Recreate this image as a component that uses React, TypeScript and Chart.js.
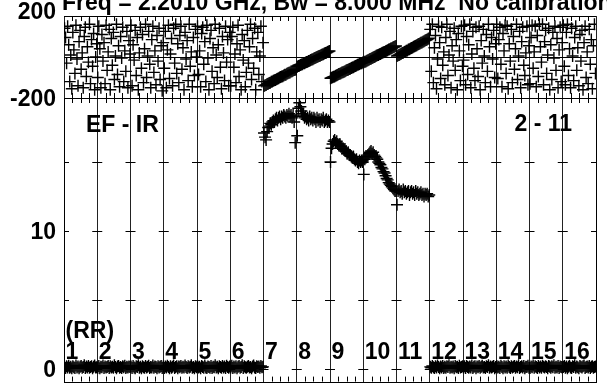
import React, { useEffect, useRef } from "react";
import { Chart, registerables } from "chart.js";

Chart.register(...registerables);

// ---------- text ----------
const TITLE = "Freq = 2.2010 GHz, Bw = 8.000 MHz  No calibration";
const BASELINE_LABEL = "EF - IR";
const TIME_LABEL = "2 - 11";
const POL_LABEL = "(RR)";
const IF_LABELS = ["1", "2", "3", "4", "5", "6", "7", "8", "9", "10", "11", "12", "13", "14", "15", "16"];

// ---------- axes ----------
const PHASE_MIN = -200;
const PHASE_MAX = 200;
const PHASE_GRID = [-200, 0, 200];
const PHASE_TICKS = [-200, 200];
const PHASE_TICK_LABELS = ["-200", "200"];
const AMP_MIN = -0.93;
const AMP_MAX = 19.64;
const AMP_MARKS = [0, 5, 10, 15];
const AMP_TICKS = [0, 10];
const AMP_TICK_LABELS = ["0", "10"];
const MINOR_FRACTIONS = [0.25, 0.5, 0.75];

// ---------- phase (deg), 32 channels per IF ----------
const PHASE_IF1 = [140, 95, -30, 150, 60, -120, 10, -155, 120, 35, -80, 155, -10, -140, 75, 130, -60, 20, -150, 100, 145, -95, 50, -25, 160, -130, 85, -45, 115, -160, 0, 65];
const PHASE_IF2 = [-100, 150, 40, -150, 110, -20, 70, -130, 155, -65, 25, 135, -160, 90, -40, 120, -110, 5, 160, -85, 55, -145, 100, -5, 145, -120, 30, -70, 125, -150, 80, 15];
const PHASE_IF3 = [155, -140, 60, -15, 130, -90, 95, -160, 20, 145, -55, 110, -125, 40, 160, -100, 5, 125, -35, -150, 85, 150, -75, 30, -135, 105, -20, 140, -110, 55, -165, 70];
const PHASE_IF4 = [-55, 125, -150, 35, 155, -105, 15, 90, -140, 140, -30, 160, -80, 65, -125, 105, 150, -60, 45, -160, 120, -10, 80, -115, 160, -45, 25, -145, 95, -90, 135, 0];
const PHASE_IF5 = [150, -85, 30, -145, 115, 145, -35, 75, -120, 155, -5, -160, 90, 130, -70, 45, -130, 160, 10, -100, 60, 140, -50, -155, 100, 20, -115, 150, -25, 85, -140, 120];
const PHASE_IF6 = [-140, 100, 145, -50, 15, -125, 65, 155, -95, 35, -160, 110, -15, 80, -145, -75, 130, -30, 50, 160, -110, 90, -55, 140, -160, 25, 120, -85, 5, 150, -120, 70];
const PHASE_IF7 = [-141, -138, -136, -132, -130, -127, -125, -121, -120, -116, -113, -112, -108, -106, -104, -100, -98, -95, -94, -90, -87, -86, -82, -79, -77, -75, -71, -70, -66, -64, -62, -60];
const PHASE_IF8 = [-47, -44, -43, -39, -37, -35, -31, -30, -27, -24, -23, -19, -18, -15, -12, -11, -7, -5, -3, 0, 2, 5, 6, 10, 12, 14, 17, 19, 21, 24, 27, 29];
const PHASE_IF9 = [-104, -101, -99, -96, -95, -91, -89, -87, -83, -82, -79, -76, -74, -72, -69, -66, -64, -62, -58, -57, -54, -51, -50, -46, -44, -42, -38, -37, -34, -31, -30, -27];
const PHASE_IF10 = [-26, -23, -22, -18, -16, -13, -10, -9, -5, -3, 0, 2, 6, 8, 10, 13, 15, 18, 21, 23, 25, 28, 31, 33, 36, 38, 41, 43, 46, 49, 51, 54];
const PHASE_IF11 = [5, 8, 10, 14, 16, 19, 21, 25, 27, 30, 32, 36, 38, 41, 44, 46, 50, 52, 55, 57, 61, 63, 66, 69, 71, 75, 77, 80, 83, 85, 89, 92];
const PHASE_IF12 = [135, -70, 160, -125, 45, 105, -155, -10, 150, 70, -105, 145, -40, 25, -135, 95, 160, -90, 10, 125, -150, 55, -20, 140, -65, 85, -160, 115, 30, -115, 150, -45];
const PHASE_IF13 = [-15, 155, -135, 100, -85, 60, 160, -150, 15, 125, -55, -115, 145, 40, -95, 150, -160, 80, -30, 135, 5, -125, 110, -70, 160, 50, -145, 95, -10, 130, -100, 65];
const PHASE_IF14 = [160, -105, 85, 145, -35, -145, 115, 30, 155, -80, 150, -155, 65, -20, 135, -125, 100, -60, 40, 160, -110, 5, 125, -150, 75, 145, -40, -90, 20, 150, -135, 55];
const PHASE_IF15 = [-130, 95, 155, -55, 25, 150, -145, 105, -95, 160, 50, -25, 160, -135, 75, 130, -80, 10, 140, -160, 60, -110, 120, -5, 150, -65, 90, -150, 35, 145, -120, 70];
const PHASE_IF16 = [155, -45, -135, 120, 160, -90, 40, -150, 140, 5, -115, 95, 150, -65, 45, -140, 110, -20, 130, -160, 70, 150, -100, 25, -130, 135, -35, 85, -155, 55, 160, -80];

// ---------- amplitude, 32 channels per IF ----------
const AMP_IF1 = [0.12, 0.05, 0.18, 0.09, 0.22, 0.07, 0.15, 0.03, 0.19, 0.11, 0.06, 0.24, 0.1, 0.16, 0.04, 0.14, 0.2, 0.08, 0.13, 0.26, 0.05, 0.17, 0.1, 0.21, 0.07, 0.12, 0.18, 0.03, 0.15, 0.23, 0.09, 0.11];
const AMP_IF2 = [0.08, 0.2, 0.04, 0.15, 0.11, 0.23, 0.06, 0.17, 0.09, 0.13, 0.21, 0.05, 0.18, 0.1, 0.14, 0.07, 0.25, 0.12, 0.03, 0.16, 0.2, 0.08, 0.13, 0.06, 0.19, 0.11, 0.22, 0.05, 0.15, 0.09, 0.17, 0.12];
const AMP_IF3 = [0.16, 0.06, 0.21, 0.1, 0.04, 0.18, 0.12, 0.25, 0.08, 0.14, 0.03, 0.19, 0.11, 0.07, 0.2, 0.09, 0.15, 0.22, 0.05, 0.13, 0.1, 0.24, 0.07, 0.17, 0.12, 0.04, 0.19, 0.09, 0.14, 0.21, 0.06, 0.16];
const AMP_IF4 = [0.05, 0.17, 0.1, 0.22, 0.13, 0.04, 0.19, 0.08, 0.15, 0.24, 0.06, 0.12, 0.18, 0.03, 0.16, 0.11, 0.2, 0.07, 0.14, 0.09, 0.23, 0.12, 0.05, 0.18, 0.1, 0.15, 0.26, 0.08, 0.13, 0.04, 0.19, 0.11];
const AMP_IF5 = [0.19, 0.09, 0.14, 0.04, 0.2, 0.12, 0.07, 0.23, 0.1, 0.05, 0.17, 0.13, 0.08, 0.21, 0.06, 0.15, 0.11, 0.25, 0.09, 0.14, 0.03, 0.18, 0.12, 0.07, 0.2, 0.1, 0.16, 0.05, 0.22, 0.13, 0.08, 0.17];
const AMP_IF6 = [0.1, 0.22, 0.06, 0.16, 0.09, 0.19, 0.03, 0.14, 0.2, 0.08, 0.12, 0.25, 0.05, 0.18, 0.11, 0.07, 0.15, 0.21, 0.09, 0.13, 0.04, 0.17, 0.23, 0.1, 0.06, 0.19, 0.12, 0.16, 0.08, 0.2, 0.11, 0.14];
const AMP_IF7 = [17.1, 16.8, 16.6, 17.2, 17.5, 17.6, 17.8, 17.7, 17.9, 18.0, 17.9, 18.1, 18.2, 18.0, 18.2, 18.3, 18.1, 18.3, 18.2, 18.4, 18.3, 18.2, 18.4, 18.3, 18.5, 18.3, 18.4, 18.2, 18.4, 17.9, 16.4, 18.3];
const AMP_IF8 = [16.9, 18.9, 19.3, 19.0, 18.7, 18.5, 18.4, 18.2, 18.3, 18.1, 18.2, 18.0, 18.3, 18.1, 18.2, 18.0, 18.2, 18.1, 17.9, 18.2, 18.0, 18.1, 17.9, 18.1, 18.0, 18.2, 17.9, 18.0, 18.1, 17.9, 18.0, 17.9];
const AMP_IF9 = [15.0, 16.0, 16.3, 16.5, 16.6, 16.4, 16.5, 16.3, 16.2, 16.3, 16.1, 16.0, 16.0, 15.9, 15.8, 15.8, 15.6, 15.7, 15.5, 15.5, 15.4, 15.3, 15.4, 15.2, 15.1, 15.2, 15.0, 14.9, 15.1, 15.0, 15.1, 15.0];
const AMP_IF10 = [14.1, 15.2, 15.3, 15.4, 15.5, 15.6, 15.7, 15.8, 15.6, 15.7, 15.5, 15.4, 15.3, 15.2, 15.0, 14.9, 14.8, 14.6, 14.5, 14.3, 14.2, 14.0, 13.8, 13.7, 13.5, 13.4, 13.3, 13.2, 13.1, 13.0, 12.9, 12.9];
const AMP_IF11 = [11.9, 12.9, 13.0, 12.8, 12.9, 12.7, 13.0, 12.8, 12.9, 12.7, 12.8, 12.9, 12.6, 12.8, 12.9, 12.7, 12.8, 12.6, 12.9, 12.7, 12.8, 12.6, 12.7, 12.8, 12.6, 12.7, 12.5, 12.7, 12.6, 12.7, 12.5, 12.6];
const AMP_IF12 = [0.14, 0.07, 0.2, 0.11, 0.05, 0.18, 0.09, 0.23, 0.13, 0.04, 0.16, 0.1, 0.21, 0.06, 0.15, 0.08, 0.19, 0.12, 0.25, 0.07, 0.14, 0.1, 0.17, 0.03, 0.2, 0.11, 0.15, 0.06, 0.22, 0.09, 0.13, 0.18];
const AMP_IF13 = [0.09, 0.18, 0.05, 0.21, 0.12, 0.07, 0.16, 0.1, 0.24, 0.06, 0.14, 0.19, 0.03, 0.17, 0.11, 0.2, 0.08, 0.15, 0.22, 0.1, 0.13, 0.05, 0.18, 0.12, 0.26, 0.07, 0.16, 0.09, 0.14, 0.2, 0.04, 0.12];
const AMP_IF14 = [0.2, 0.1, 0.15, 0.06, 0.22, 0.13, 0.04, 0.18, 0.09, 0.16, 0.07, 0.23, 0.12, 0.05, 0.19, 0.1, 0.14, 0.21, 0.08, 0.17, 0.11, 0.25, 0.06, 0.13, 0.18, 0.09, 0.2, 0.04, 0.15, 0.12, 0.22, 0.08];
const AMP_IF15 = [0.06, 0.16, 0.11, 0.24, 0.08, 0.19, 0.13, 0.05, 0.2, 0.1, 0.17, 0.07, 0.22, 0.14, 0.09, 0.18, 0.12, 0.03, 0.21, 0.15, 0.08, 0.19, 0.11, 0.25, 0.07, 0.14, 0.1, 0.2, 0.05, 0.17, 0.13, 0.09];
const AMP_IF16 = [0.13, 0.21, 0.08, 0.17, 0.04, 0.15, 0.22, 0.1, 0.06, 0.19, 0.12, 0.25, 0.07, 0.16, 0.11, 0.03, 0.2, 0.14, 0.09, 0.18, 0.23, 0.06, 0.12, 0.17, 0.1, 0.21, 0.05, 0.15, 0.19, 0.08, 0.13, 0.16];

const PHASE_SERIES = [PHASE_IF1, PHASE_IF2, PHASE_IF3, PHASE_IF4, PHASE_IF5, PHASE_IF6, PHASE_IF7, PHASE_IF8,
  PHASE_IF9, PHASE_IF10, PHASE_IF11, PHASE_IF12, PHASE_IF13, PHASE_IF14, PHASE_IF15, PHASE_IF16];
const AMP_SERIES = [AMP_IF1, AMP_IF2, AMP_IF3, AMP_IF4, AMP_IF5, AMP_IF6, AMP_IF7, AMP_IF8,
  AMP_IF9, AMP_IF10, AMP_IF11, AMP_IF12, AMP_IF13, AMP_IF14, AMP_IF15, AMP_IF16];

const FONT_FAMILY = '"Liberation Sans", Arial, Helvetica, sans-serif';
const FONT_SIZE = 23;
const FONT = `bold ${FONT_SIZE}px ${FONT_FAMILY}`;
const INK = "#000";
const GRID_INK = "#222";

function buildPoints(series: number[][]) {
  const pts: { x: number; y: number }[] = [];
  series.forEach((vals, i) => {
    vals.forEach((v, j) => pts.push({ x: i + (j + 0.5) / vals.length, y: v }));
  });
  return pts;
}

const IF_BOUNDARIES = Array.from({ length: IF_LABELS.length + 1 }, (_, i) => i);

function drawMinorTicks(chart: any) {
  const { ctx, chartArea, scales } = chart;
  const xs = scales.x;
  ctx.save();
  ctx.strokeStyle = INK;
  ctx.lineWidth = 1;
  ctx.beginPath();
  for (let i = 0; i < IF_LABELS.length; i++) {
    for (const f of MINOR_FRACTIONS) {
      const x = Math.round(xs.getPixelForValue(i + f)) + 0.5;
      ctx.moveTo(x, chartArea.top);
      ctx.lineTo(x, chartArea.top + 5);
      ctx.moveTo(x, chartArea.bottom);
      ctx.lineTo(x, chartArea.bottom - 5);
    }
  }
  ctx.stroke();
  ctx.restore();
}

function drawYLabels(chart: any, values: number[], labels: string[]) {
  const { ctx, chartArea, scales } = chart;
  const ys = scales.y;
  ctx.save();
  ctx.fillStyle = INK;
  ctx.font = FONT;
  ctx.textAlign = "right";
  ctx.textBaseline = "middle";
  values.forEach((v, i) => {
    const atTop = v >= ys.max;
    const y = ys.getPixelForValue(v) + (atTop ? -3 : 2);
    ctx.fillText(labels[i], chartArea.left - 8, y);
  });
  ctx.restore();
}

const topDecor = {
  id: "topDecor",
  afterDraw(chart: any) {
    const { ctx, chartArea } = chart;
    drawMinorTicks(chart);
    drawYLabels(chart, PHASE_TICKS, PHASE_TICK_LABELS);
    ctx.save();
    ctx.fillStyle = INK;
    ctx.font = FONT;
    ctx.textAlign = "left";
    ctx.textBaseline = "alphabetic";
    ctx.fillText(TITLE, chartArea.left - 2, 10);
    ctx.restore();
  },
};

const bottomDecor = {
  id: "bottomDecor",
  afterDraw(chart: any) {
    const { ctx, chartArea, scales } = chart;
    const xs = scales.x;
    const ys = scales.y;
    ctx.save();
    ctx.strokeStyle = INK;
    ctx.lineWidth = 1;
    ctx.strokeRect(
      Math.round(chartArea.left) + 0.5,
      Math.round(chartArea.top) + 0.5,
      Math.round(chartArea.right - chartArea.left),
      Math.round(chartArea.bottom - chartArea.top)
    );
    ctx.beginPath();
    for (const v of AMP_MARKS) {
      const y = Math.round(ys.getPixelForValue(v)) + 0.5;
      for (const b of IF_BOUNDARIES) {
        const x = xs.getPixelForValue(b);
        ctx.moveTo(Math.max(chartArea.left, x - 5), y);
        ctx.lineTo(Math.min(chartArea.right, x + 5), y);
      }
    }
    ctx.stroke();
    ctx.restore();
    drawMinorTicks(chart);
    drawYLabels(chart, AMP_TICKS, AMP_TICK_LABELS);

    ctx.save();
    ctx.fillStyle = INK;
    ctx.font = FONT;
    ctx.textBaseline = "alphabetic";
    ctx.textAlign = "left";
    ctx.fillText(BASELINE_LABEL, chartArea.left + 22, chartArea.top + 33.5);
    ctx.textAlign = "right";
    ctx.fillText(TIME_LABEL, chartArea.right - 24, chartArea.top + 33);
    ctx.textAlign = "left";
    ctx.fillText(POL_LABEL, xs.getPixelForValue(0) + 1.5, chartArea.bottom - 44);
    IF_LABELS.forEach((lab, i) => {
      ctx.fillText(lab, xs.getPixelForValue(i) + 1.5, chartArea.bottom - 23);
    });
    ctx.restore();
  },
};

function xScaleOptions() {
  return {
    type: "linear" as const,
    min: 0,
    max: IF_LABELS.length,
    afterBuildTicks: (s: any) => {
      s.ticks = IF_BOUNDARIES.map((v) => ({ value: v }));
    },
    ticks: { display: false },
    grid: { color: GRID_INK, lineWidth: 1, drawTicks: false },
    border: { display: false },
    afterFit: (s: any) => {
      s.height = 0;
    },
  };
}

function datasetStyle() {
  return {
    pointStyle: "cross" as const,
    pointRadius: 6,
    pointHoverRadius: 6,
    borderColor: INK,
    backgroundColor: INK,
    borderWidth: 1.4,
    showLine: false,
  };
}

const W = 607;
const H = 389;

export default function App() {
  const topRef = useRef<HTMLCanvasElement>(null);
  const botRef = useRef<HTMLCanvasElement>(null);

  useEffect(() => {
    const topChart = new Chart(topRef.current as HTMLCanvasElement, {
      type: "scatter",
      data: { datasets: [{ data: buildPoints(PHASE_SERIES), ...datasetStyle() }] },
      options: {
        animation: false,
        responsive: false,
        events: [],
        layout: { padding: { top: 16, bottom: H - 98, left: 0, right: W - 596 } },
        plugins: { legend: { display: false }, tooltip: { enabled: false } },
        scales: {
          x: xScaleOptions(),
          y: {
            type: "linear",
            min: PHASE_MIN,
            max: PHASE_MAX,
            afterBuildTicks: (s: any) => {
              s.ticks = PHASE_GRID.map((v) => ({ value: v }));
            },
            ticks: { display: false },
            grid: { color: INK, lineWidth: 1, drawTicks: false },
            border: { display: false },
            afterFit: (s: any) => {
              s.width = 64;
            },
          },
        },
      } as any,
      plugins: [topDecor],
    });

    const botChart = new Chart(botRef.current as HTMLCanvasElement, {
      type: "scatter",
      data: { datasets: [{ data: buildPoints(AMP_SERIES), ...datasetStyle() }] },
      options: {
        animation: false,
        responsive: false,
        events: [],
        layout: { padding: { top: 98, bottom: H - 386, left: 0, right: W - 596 } },
        plugins: { legend: { display: false }, tooltip: { enabled: false } },
        scales: {
          x: xScaleOptions(),
          y: {
            type: "linear",
            min: AMP_MIN,
            max: AMP_MAX,
            ticks: { display: false },
            grid: { display: false, drawTicks: false },
            border: { display: false },
            afterFit: (s: any) => {
              s.width = 64;
            },
          },
        },
      } as any,
      plugins: [bottomDecor],
    });

    return () => {
      topChart.destroy();
      botChart.destroy();
    };
  }, []);

  const canvasStyle: React.CSSProperties = { position: "absolute", left: 0, top: 0, width: W, height: H };
  return (
    <div style={{ position: "absolute", left: 0, top: 0, width: W, height: H, background: "#fff", overflow: "hidden" }}>
      <canvas ref={topRef} width={W} height={H} style={canvasStyle} />
      <canvas ref={botRef} width={W} height={H} style={canvasStyle} />
    </div>
  );
}
